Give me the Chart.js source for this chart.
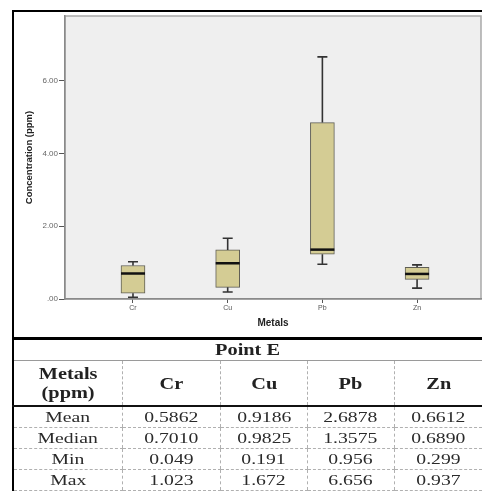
<!DOCTYPE html>
<html>
<head>
<meta charset="utf-8">
<script src="https://cdn.jsdelivr.net/npm/chart.js@4.4.1/dist/chart.umd.min.js"></script>
<style>
  html, body { margin: 0; padding: 0; background: #fff; width: 482px; height: 491px; overflow: hidden; position: relative; }
  #plot { position: absolute; left: 0; top: 0; z-index: 1; }
  #frame { position: absolute; left: 12px; top: 10px; width: 500px; height: 325px; z-index: 2;
           border: 2px solid #000; border-bottom-width: 3px; background: transparent; pointer-events: none; }
  #stats { position: absolute; left: 12px; top: 340px; border-collapse: collapse; z-index: 3;
           table-layout: fixed; font-family: "Liberation Serif", "Times New Roman", serif; color: #222; }
  #stats td, #stats th { padding: 0; text-align: center; vertical-align: middle; overflow: visible; white-space: nowrap; }
  #stats .s { display: inline-block; transform: scaleX(1.27); }
  #stats tr.title th { height: 20px; font-size: 16px; font-weight: bold; border-bottom: 1px solid #9a9a9a; border-left: 2px solid #000; }
  #stats tr.head th { height: 44px; font-size: 16px; font-weight: bold; line-height: 19px;
                      border-bottom: 2px solid #111; border-left: 1px dashed #b0b0b0; }
  #stats tr.data td { height: 20px; font-size: 15.5px; line-height: 16px; color: #2a2a2a;
                      border-bottom: 1px dashed #b0b0b0; border-left: 1px dashed #b0b0b0; }
  #stats tr.head th:first-child, #stats tr.data td:first-child { border-left: 2px solid #000; }
</style>
</head>
<body>
<canvas id="plot" width="482" height="340"></canvas>
<div id="frame"></div>
<table id="stats">
  <colgroup><col style="width:112px"><col style="width:101px"><col style="width:89px"><col style="width:89px"><col style="width:90px"></colgroup>
  <tbody id="statsBody"></tbody>
</table>
<script>
// Heavy metal concentrations (ppm) at sampling point E
const metals = ['Cr', 'Cu', 'Pb', 'Zn'];
const minVals = [0.049, 0.191, 0.956, 0.299];
const q1Vals = [0.16, 0.32, 1.23, 0.54];
const medianVals = [0.7010, 0.9825, 1.3575, 0.6890];
const q3Vals = [0.92, 1.35, 4.85, 0.87];
const maxVals = [1.023, 1.672, 6.656, 0.937];
const meanVals = [0.5862, 0.9186, 2.6878, 0.6612];
const yTicks = [0, 2, 4, 6];

// Background of the plot area plus whiskers and medians drawn through the scales
const boxPlotExtras = {
  id: 'boxPlotExtras',
  beforeDraw(chart) {
    const { ctx, chartArea: a } = chart;
    ctx.save();
    ctx.fillStyle = '#efefef';
    ctx.fillRect(a.left, a.top, a.right - a.left, a.bottom - a.top);
    ctx.strokeStyle = '#a9a9a9';
    ctx.lineWidth = 1.5;
    ctx.strokeRect(a.left, a.top, a.right - a.left, a.bottom - a.top);
    ctx.restore();
  },
  afterDatasetsDraw(chart) {
    const { ctx } = chart;
    const xs = chart.scales.x, ys = chart.scales.y;
    ctx.save();
    metals.forEach((m, i) => {
      const px = xs.getPixelForValue(i);
      const yMin = ys.getPixelForValue(minVals[i]);
      const yQ1 = ys.getPixelForValue(q1Vals[i]);
      const yQ3 = ys.getPixelForValue(q3Vals[i]);
      const yMax = ys.getPixelForValue(maxVals[i]);
      const yMed = ys.getPixelForValue(medianVals[i]);
      ctx.strokeStyle = '#333';
      ctx.lineWidth = 1.6;
      ctx.beginPath();
      ctx.moveTo(px, yMin); ctx.lineTo(px, yQ1);
      ctx.moveTo(px, yQ3); ctx.lineTo(px, yMax);
      ctx.moveTo(px - 5, yMin); ctx.lineTo(px + 5, yMin);
      ctx.moveTo(px - 5, yMax); ctx.lineTo(px + 5, yMax);
      ctx.stroke();
      ctx.strokeStyle = '#111';
      ctx.lineWidth = 2.5;
      ctx.beginPath();
      ctx.moveTo(px - 12, yMed); ctx.lineTo(px + 12, yMed);
      ctx.stroke();
    });
    ctx.restore();
  }
};

new Chart(document.getElementById('plot'), {
  type: 'bar',
  data: {
    datasets: [{
      data: metals.map((m, i) => ({ x: i, y: [q1Vals[i], q3Vals[i]] })),
      backgroundColor: '#d4cc94',
      borderColor: '#5f5e55',
      borderWidth: 1,
      borderSkipped: false,
      barThickness: 24
    }]
  },
  options: {
    responsive: false,
    animation: false,
    events: [],
    layout: { padding: { top: 16, right: 1, left: 0, bottom: 0 } },
    plugins: { legend: { display: false }, tooltip: { enabled: false } },
    scales: {
      x: {
        type: 'linear',
        offset: false,
        min: -0.718,
        max: 3.675,
        grid: { offset: false, drawOnChartArea: false, drawTicks: true, tickLength: 4, color: '#555', lineWidth: 1 },
        border: { display: true, color: '#8a8a8a', width: 1.5 },
        afterBuildTicks: (scale) => { scale.ticks = metals.map((m, i) => ({ value: i })); },
        afterFit: (scale) => { scale.height = 41; },
        ticks: {
          autoSkip: false,
          maxRotation: 0,
          padding: 1,
          color: '#555',
          font: { family: 'Liberation Sans', size: 7 },
          callback: (v) => metals[v]
        },
        title: {
          display: true,
          text: 'Metals',
          color: '#222',
          font: { family: 'Liberation Sans', size: 10, weight: 'bold' },
          padding: { top: 0, bottom: 11 }
        }
      },
      y: {
        min: 0,
        max: 7.78,
        grid: { drawOnChartArea: false, drawTicks: true, tickLength: 6, color: '#555', lineWidth: 1 },
        border: { display: true, color: '#8a8a8a', width: 1.5 },
        afterBuildTicks: (scale) => { scale.ticks = yTicks.map(v => ({ value: v })); },
        afterFit: (scale) => { scale.width = 65; },
        ticks: {
          padding: 1,
          color: '#666',
          font: { family: 'Liberation Sans', size: 8 },
          callback: (v) => v === 0 ? '.00' : v.toFixed(2)
        },
        title: {
          display: true,
          text: 'Concentration (ppm)',
          color: '#222',
          font: { family: 'Liberation Sans', size: 9.5, weight: 'bold' },
          padding: { top: 24, bottom: 0 }
        }
      }
    }
  },
  plugins: [boxPlotExtras]
});

// Summary table below the chart
const rowDefs = [
  ['Mean', meanVals, 4],
  ['Median', medianVals, 4],
  ['Min', minVals, 3],
  ['Max', maxVals, 3]
];
const body = document.getElementById('statsBody');
let html = '<tr class="title"><th colspan="5"><span class="s">Point E</span></th></tr>';
html += '<tr class="head"><th><span class="s">Metals<br>(ppm)</span></th>' +
        metals.map(m => '<th><span class="s">' + m + '</span></th>').join('') + '</tr>';
rowDefs.forEach(([name, vals, digits]) => {
  html += '<tr class="data"><td><span class="s">' + name + '</span></td>' +
          vals.map(v => '<td><span class="s">' + v.toFixed(digits) + '</span></td>').join('') + '</tr>';
});
body.innerHTML = html;
</script>
</body>
</html>
